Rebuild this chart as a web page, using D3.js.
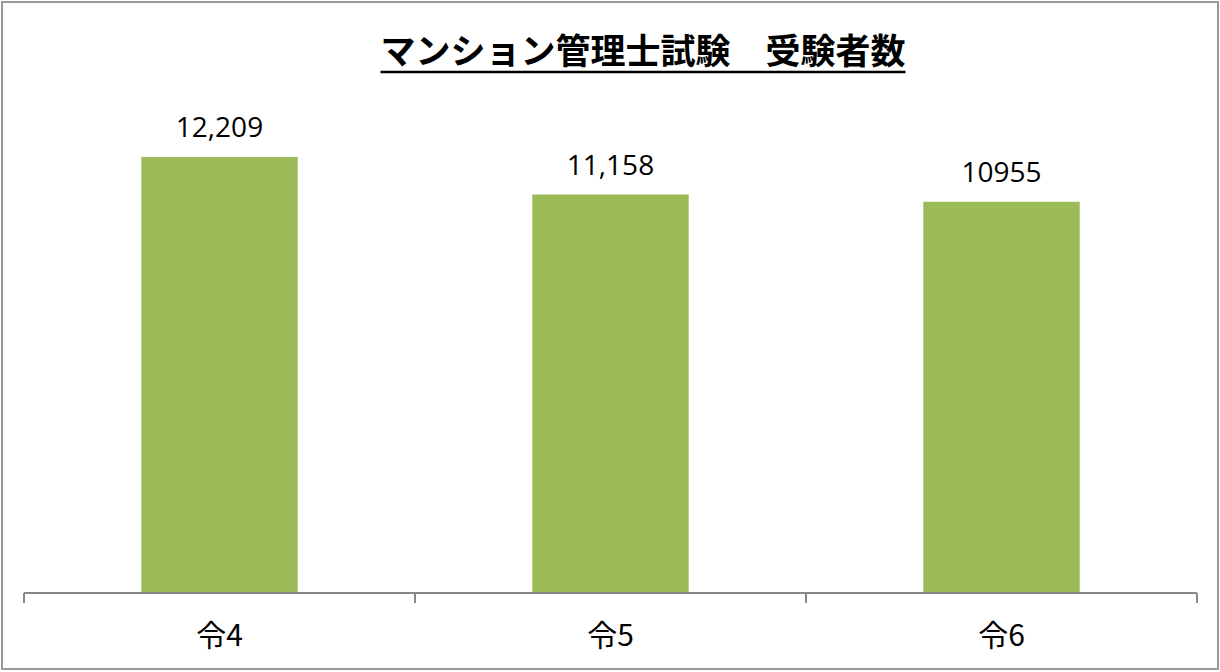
<!DOCTYPE html>
<html>
<head>
<meta charset="utf-8">
<script src="https://cdn.jsdelivr.net/npm/d3@7"></script>
<style>
  html, body { margin: 0; padding: 0; background: #fff; }
  svg { display: block; }
</style>
</head>
<body>
<div id="chart"></div>
<script>
// マンション管理士試験 受験者数
const categories = ['令4', '令5', '令6'];
const values = [12209, 11158, 10955];
const valueLabels = ['12,209', '11,158', '10955'];

const W = 1220, H = 672;
const svg = d3.select('#chart').append('svg')
    .attr('width', W)
    .attr('height', H);

// 外枠
svg.append('rect')
    .attr('x', 2).attr('y', 2)
    .attr('width', W - 4).attr('height', H - 5)
    .attr('fill', '#fff')
    .attr('stroke', '#999')
    .attr('stroke-width', 2);

const plot = { left: 24, right: 1197, top: 93, bottom: 593 };

const x = d3.scaleBand()
    .domain(categories)
    .range([plot.left, plot.right])
    .paddingInner(0.6)
    .paddingOuter(0.3);

const y = d3.scaleLinear()
    .domain([0, 14000])
    .range([plot.bottom, plot.top]);

// 棒
svg.selectAll('.bar')
    .data(values)
    .enter().append('rect')
    .attr('class', 'bar')
    .attr('x', (d, i) => x(categories[i]))
    .attr('y', d => y(d))
    .attr('width', x.bandwidth())
    .attr('height', d => plot.bottom - y(d))
    .attr('fill', '#9bbb59');

// 値ラベル
svg.selectAll('.val')
    .data(values)
    .enter().append('text')
    .attr('class', 'val')
    .attr('x', (d, i) => x(categories[i]) + x.bandwidth() / 2)
    .attr('y', d => y(d) - 20)
    .attr('text-anchor', 'middle')
    .style('font-family', '"Open Sans", "Noto Sans", sans-serif')
    .style('font-size', '28px')
    .style('fill', '#000')
    .text((d, i) => valueLabels[i]);

// X軸 (目盛りはカテゴリの境界)
const bounds = d3.range(categories.length + 1)
    .map(i => plot.left + i * (plot.right - plot.left) / categories.length);

svg.append('line')
    .attr('x1', plot.left).attr('x2', plot.right)
    .attr('y1', plot.bottom).attr('y2', plot.bottom)
    .attr('stroke', '#888').attr('stroke-width', 2);

svg.selectAll('.tick')
    .data(bounds)
    .enter().append('line')
    .attr('class', 'tick')
    .attr('x1', d => d).attr('x2', d => d)
    .attr('y1', plot.bottom).attr('y2', plot.bottom + 10)
    .attr('stroke', '#888').attr('stroke-width', 2);

svg.selectAll('.cat')
    .data(categories)
    .enter().append('text')
    .attr('class', 'cat')
    .attr('x', d => x(d) + x.bandwidth() / 2)
    .attr('y', 646)
    .attr('text-anchor', 'middle')
    .style('font-family', '"Noto Sans CJK JP", sans-serif')
    .style('font-size', '30px')
    .style('fill', '#000')
    .text(d => d);

// タイトル
const title = svg.append('text')
    .attr('x', 643)
    .attr('y', 64)
    .attr('text-anchor', 'middle')
    .style('font-family', '"Noto Sans CJK JP", sans-serif')
    .style('font-size', '35px')
    .style('font-weight', 'bold')
    .style('fill', '#000')
    .text('マンション管理士試験\u3000受験者数');

const tb = title.node().getBBox();
svg.append('line')
    .attr('x1', tb.x).attr('x2', tb.x + tb.width)
    .attr('y1', 72).attr('y2', 72)
    .attr('stroke', '#000').attr('stroke-width', 2.5);
</script>
</body>
</html>
